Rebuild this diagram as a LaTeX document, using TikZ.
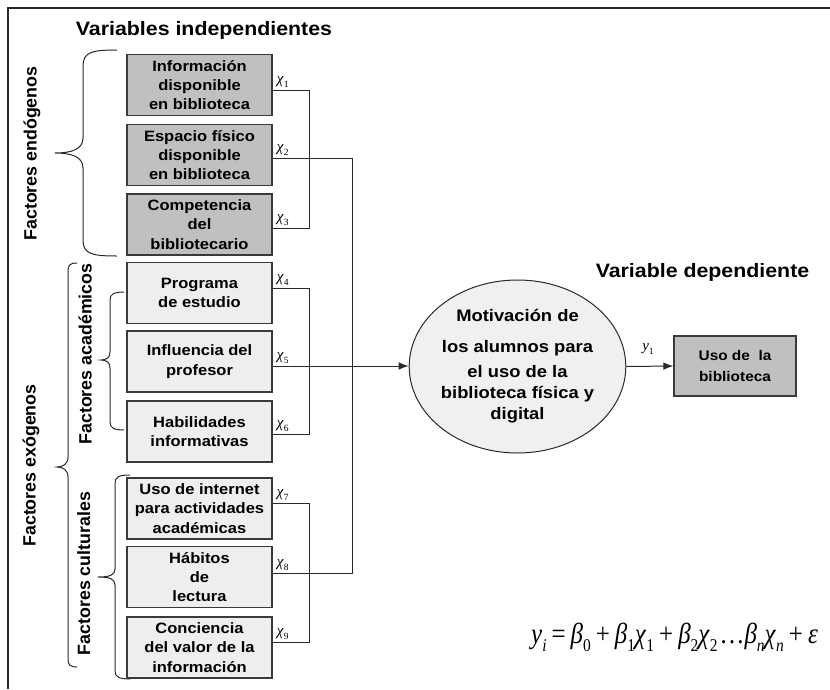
\documentclass[tikz,border=0pt]{standalone}
\usepackage{graphicx}
\usepackage{fontspec}
\setmainfont{Liberation Sans}[FakeStretch=1.1]
\newfontfamily\rotfont{Liberation Sans}
\newfontfamily\eqfont{Liberation Serif}
\usetikzlibrary{arrows.meta,shapes.geometric}
\definecolor{darkfill}{HTML}{C0C0C0}
\definecolor{lightfill}{HTML}{EEEEEE}
\definecolor{circfill}{HTML}{F0F0F0}
\definecolor{edgecol}{HTML}{3A3A3A}
\definecolor{linecol}{HTML}{2A2A2A}
\newcommand\lsub[1]{\raisebox{-0.3em}{\fontsize{9.5}{10}\selectfont #1}}
\newcommand\esub[1]{\raisebox{-0.3em}{\fontsize{18}{20}\selectfont #1}}
\newcommand\esp{\hspace{0.2em}}
\tikzset{
  varbox/.style={draw=edgecol, line width=1.3pt, minimum width=145pt, minimum height=61pt,
    inner sep=0pt, align=center, font=\fontsize{15}{19.4}\selectfont\bfseries},
  darkbox/.style={varbox, fill=darkfill},
  lightbox/.style={varbox, fill=lightfill},
  conn/.style={draw=linecol, line width=1pt},
  arr/.style={-{Latex[length=10pt,width=7.5pt]}},
  chilab/.style={anchor=south west, inner sep=0pt, font=\eqfont\fontsize{15}{15}\selectfont},
  title/.style={anchor=base, inner sep=0pt, font=\fontsize{19.4}{22}\selectfont\bfseries},
  rotlab/.style={anchor=base, rotate=90, inner sep=0pt, font=\rotfont\fontsize{17.8}{20}\selectfont\bfseries},
  bracecol/.style={draw=linecol, line width=1pt},
  frameline/.style={draw=linecol, line width=1.6pt}
}
\begin{document}
\begin{tikzpicture}[x=1pt,y=-1pt]
\useasboundingbox (0,0) rectangle (830,689);
\fill[white] (0,0) rectangle (830,689);
\draw[frameline] (8,689) -- (8,8) -- (830,8);

% titles
\node[title] (tind) at (204,35) {Variables independientes};
\node[title] (tdep) at (702.5,277) {Variable dependiente};

% rotated labels
\node[rotlab] (lendo) at (36.5,153.5) {Factores endógenos};
\node[rotlab] (lexo) at (35.5,465.5) {Factores exógenos};
\node[rotlab] (lacad) at (91.5,354) {Factores académicos};
\node[rotlab] (lcult) at (90,573.5) {Factores culturales};

% braces
\draw[bracecol] (117,50) .. controls (92,50) and (83,52) .. (83,66) -- (83,138)
  .. controls (83,150) and (70,153) .. (55,153)
  .. controls (70,153) and (83,156) .. (83,168) -- (83,240)
  .. controls (83,254) and (92,256) .. (117,256);
\draw[bracecol] (77,263) .. controls (70,263) and (68,265) .. (68,271) -- (68,457)
  .. controls (68,464) and (63,467) .. (57,467)
  .. controls (63,467) and (68,470) .. (68,477) -- (68,659)
  .. controls (68,665) and (70,667) .. (77,667);
\draw[bracecol] (124,292) .. controls (114,292) and (110,294) .. (110,300) -- (110,352)
  .. controls (110,358) and (106,360) .. (101,360)
  .. controls (106,360) and (110,362) .. (110,368) -- (110,422)
  .. controls (110,428) and (114,430) .. (124,430);
\draw[bracecol] (130,475) .. controls (119,475) and (115,477) .. (115,483) -- (115,569)
  .. controls (115,575) and (110,577) .. (98,577)
  .. controls (110,577) and (115,579) .. (115,585) -- (115,671)
  .. controls (115,677) and (119,679) .. (130,679);

% independent variable boxes
\node[darkbox] (b1) at (199.5,85) {Información\\disponible\\en biblioteca};
\node[darkbox] (b2) at (199.5,155) {Espacio físico\\disponible\\en biblioteca};
\node[darkbox] (b3) at (199.5,224.5) {Competencia\\del\\bibliotecario};
\node[lightbox] (b4) at (199.5,293) {Programa\\de estudio};
\node[lightbox] (b5) at (199.5,361.5) {Influencia del\\profesor};
\node[lightbox] (b6) at (199.5,431.5) {Habilidades\\informativas};
\node[lightbox] (b7) at (199.5,508.5) {Uso de internet\\para actividades\\académicas};
\node[lightbox] (b8) at (199.5,577) {Hábitos\\de\\lectura};
\node[lightbox] (b9) at (199.5,647.5) {Conciencia\\del valor de la\\información};

% central ellipse and dependent variable
\node[ellipse, draw=linecol, line width=1pt, fill=circfill, minimum width=183pt, minimum height=173pt,
  inner sep=0pt, align=center, font=\fontsize{16.7}{21}\selectfont\bfseries] (mot) at (517.5,366.5)
  {Motivación de\\[10pt]los alumnos para\\[4pt]el uso de la\\biblioteca física y\\digital};
\node[darkbox, minimum width=122pt, minimum height=60pt, font=\fontsize{14}{20.5}\selectfont\bfseries]
  (uso) at (735,366) {Uso de\ \ la\\biblioteca};

% connector end points
\coordinate (e1) at ([yshift=-5pt]b1.east);
\coordinate (e2) at ([yshift=-3pt]b2.east);
\coordinate (e3) at ([yshift=-3.5pt]b3.east);
\coordinate (e4) at ([yshift=5pt]b4.east);
\coordinate (e5) at ([yshift=-4.5pt]b5.east);
\coordinate (e6) at ([yshift=-2.5pt]b6.east);
\coordinate (e7) at ([yshift=5.5pt]b7.east);
\coordinate (e8) at ([yshift=4pt]b8.east);
\coordinate (e9) at ([yshift=5.5pt]b9.east);
\coordinate (xa) at (309,0);
\coordinate (xb) at (352,0);

\draw[conn] (e1) -- (e1 -| xa) -- (e3 -| xa) -- (e3);
\draw[conn] (e2) -- (e2 -| xb) -- (e8 -| xb) -- (e8);
\draw[conn] (e4) -- (e4 -| xa) -- (e6 -| xa) -- (e6);
\draw[conn] (e7) -- (e7 -| xa) -- (e9 -| xa) -- (e9);
\draw[conn,arr] (e5) -- (e5 -| mot.west);
\draw[conn,arr] (mot.east) -- (uso.west);

% chi labels
\node[chilab] (x1) at ([xshift=4pt,yshift=2pt]e1) {\textit{χ}\lsub{1}};
\node[chilab] (x2) at ([xshift=4pt,yshift=2pt]e2) {\textit{χ}\lsub{2}};
\node[chilab] (x3) at ([xshift=4pt,yshift=2pt]e3) {\textit{χ}\lsub{3}};
\node[chilab] (x4) at ([xshift=4pt,yshift=2pt]e4) {\textit{χ}\lsub{4}};
\node[chilab] (x5) at ([xshift=4pt,yshift=2pt]e5) {\textit{χ}\lsub{5}};
\node[chilab] (x6) at ([xshift=4pt,yshift=2pt]e6) {\textit{χ}\lsub{6}};
\node[chilab] (x7) at ([xshift=4pt,yshift=2pt]e7) {\textit{χ}\lsub{7}};
\node[chilab] (x8) at ([xshift=4pt,yshift=2pt]e8) {\textit{χ}\lsub{8}};
\node[chilab] (x9) at ([xshift=4pt,yshift=2pt]e9) {\textit{χ}\lsub{9}};
\node[anchor=south, inner sep=0pt, font=\eqfont\fontsize{15}{15}\selectfont] (ylab) at (648,355) {\textit{y}\lsub{1}};

% equation
\node[anchor=base west, inner sep=0pt, font=\eqfont\fontsize{29}{32}\selectfont] (eq) at (531,643)
  {\scalebox{0.86}[1]{\textit{y}\esub{\textit{i}}\esp=\esp\textit{β}\esub{0}\esp+\esp\textit{β}\esub{1}\textit{χ}\esub{1}\esp+\esp\textit{β}\esub{2}\textit{χ}\esub{2}\hspace{0.08em}\dots\textit{β}\esub{\textit{n}}\textit{χ}\esub{\textit{n}}\esp+\esp\textit{ε}}};
\end{tikzpicture}
\end{document}
